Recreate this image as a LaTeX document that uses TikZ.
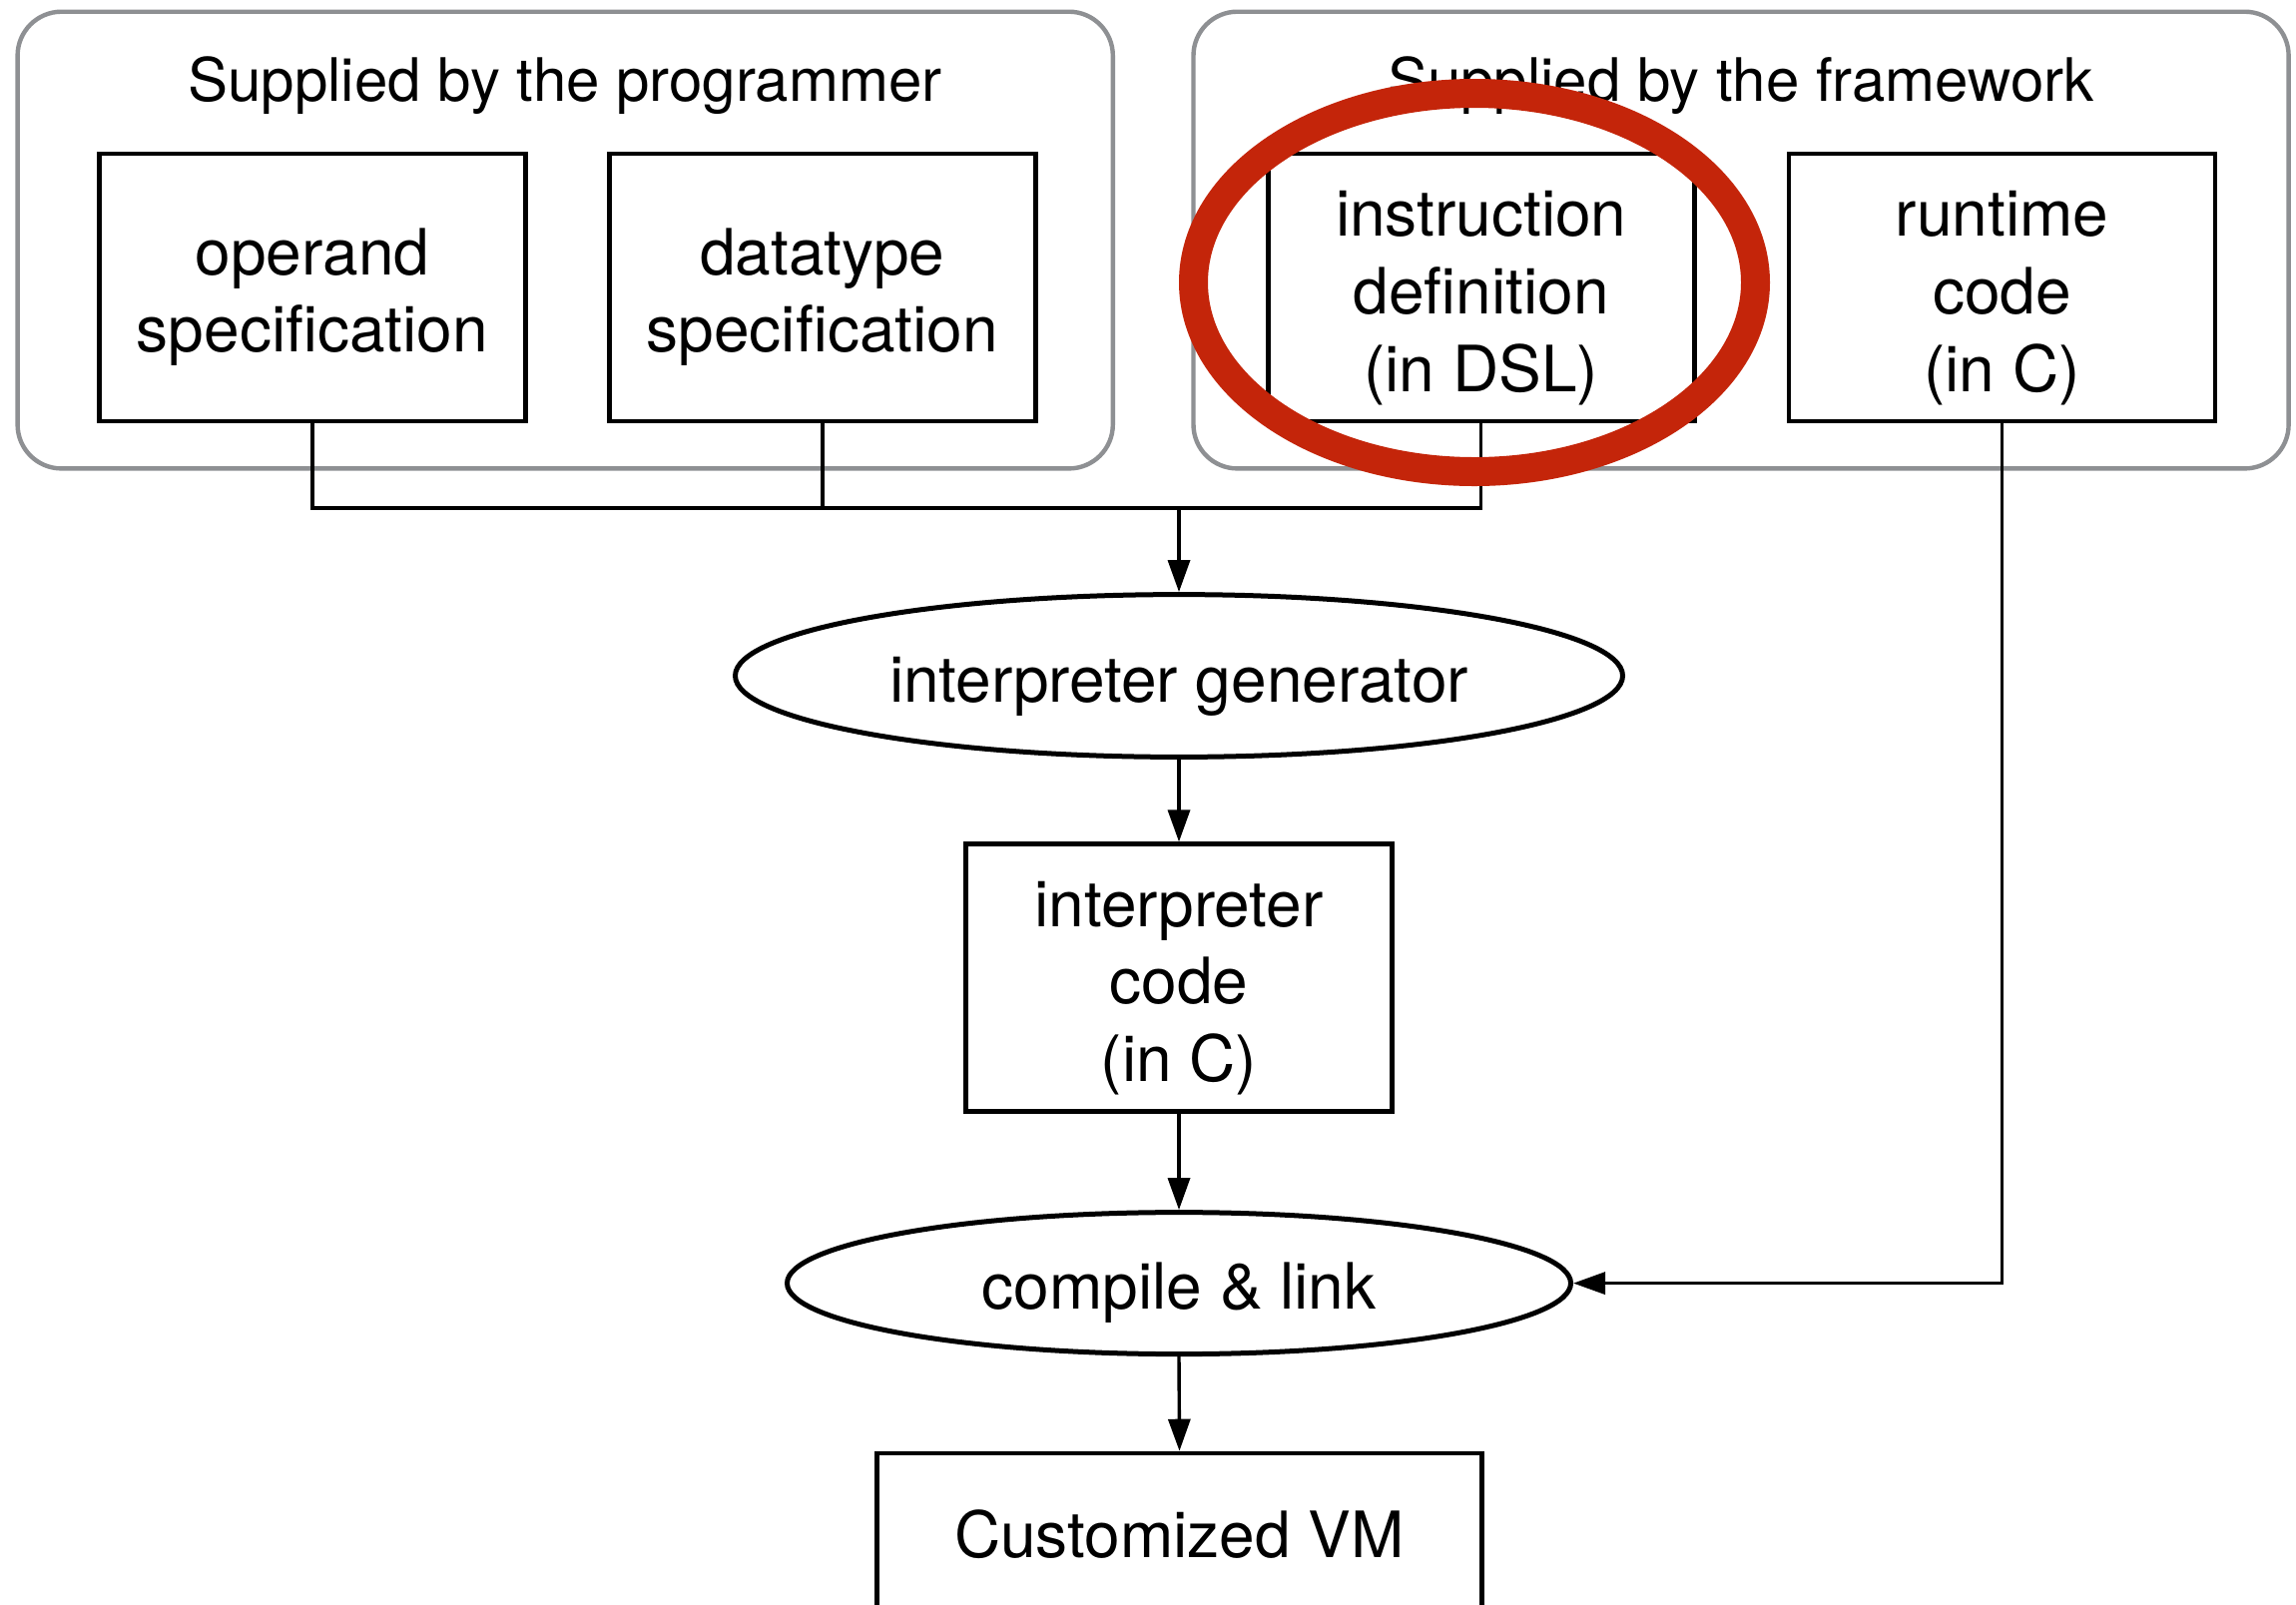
\documentclass[tikz,border=0pt]{standalone}
\usepackage{fontspec}
\setmainfont{TeX Gyre Heros}
\usetikzlibrary{shapes.geometric,arrows.meta}

\definecolor{groupgray}{RGB}{142,144,147}
\definecolor{markred}{RGB}{196,37,10}

% a tall strut on the first line sets the text a little lower in its shape
\newcommand\lowerline{\rule{0pt}{33pt}}

\tikzset{
  groupbox/.style={draw=groupgray, line width=2.2pt, rounded corners=22pt},
  grouptitle/.style={anchor=base, font=\fontsize{30}{36}\selectfont},
  lowered/.style={execute at begin node={\lowerline}},
  stepbox/.style={draw, line width=2.3pt, rectangle, align=center,
    minimum width=213.5pt, minimum height=134pt, inner sep=0pt,
    font=\fontsize{32}{38.9}\selectfont},
  procoval/.style={draw, line width=2.5pt, ellipse, inner sep=0pt,
    font=\fontsize{32}{38.9}\selectfont, lowered},
  conn/.style={line width=1.7pt},
  flow/.style={conn, -{Triangle[length=16pt, width=11pt]}},
  ring/.style={draw=markred, line width=14.5pt},
}

\begin{document}
\begin{tikzpicture}[x=0.5pt, y=-0.5pt]
  \useasboundingbox (0,0) rectangle (2300,1607);
  \clip (0,0) rectangle (2300,1607);
  \fill[white] (0,0) rectangle (2300,1607);

  % the two groups of inputs
  \draw[groupbox] (17.6,11.7) rectangle (1114.8,469.4);
  \draw[groupbox] (1195.5,11.7) rectangle (2292.6,469.4);
  \node[grouptitle] (progtitle) at (566,101) {Supplied by the programmer};
  \node[grouptitle] (fwtitle) at (1744,101) {Supplied by the framework};

  % input boxes
  \node[stepbox] (op)   at (313,288)  {\lowerline operand\\specification};
  \node[stepbox] (dt)   at (823.8,288) {\lowerline datatype\\specification};
  \node[stepbox] (idef) at (1483.7,288) {\lowerline instruction\\definition\\(in DSL)};
  \node[stepbox] (rt)   at (2005.5,288) {\lowerline runtime\\code\\(in C)};

  % processing chain
  \node[procoval, minimum width=444.5pt, minimum height=81.4pt] (gen) at (1181,677) {interpreter generator};
  \node[stepbox] (icode) at (1181,979.7) {\lowerline interpreter\\code\\(in C)};
  \node[procoval, minimum width=392.5pt, minimum height=71pt] (link) at (1181,1285.6) {compile \& link};
  \node[draw, line width=2.3pt, minimum width=303pt, minimum height=134pt] (vm) at (1181.5,1590) {};
  \node[font=\fontsize{32}{38.9}\selectfont] (vmtext) at (1181.5,1537) {Customized VM};

  % connectors
  \coordinate (bus) at (1181,509);
  \draw[conn] (op.south) |- (bus);
  \draw[conn] (dt.south) -- (dt.south |- bus);
  \draw[conn] (idef.south) |- (bus);
  \draw[flow] (bus) -- (gen.north);
  \draw[flow] (gen.south) -- (icode.north);
  \draw[flow] (icode.south) -- (link.north);
  \draw[flow] (link.south) -- (vm.north);
  \draw[flow] (rt.south) |- (link.east);

  % highlight ring
  \draw[ring] (1477,283) ellipse [x radius=140.75pt, y radius=94.75pt];
\end{tikzpicture}
\end{document}
